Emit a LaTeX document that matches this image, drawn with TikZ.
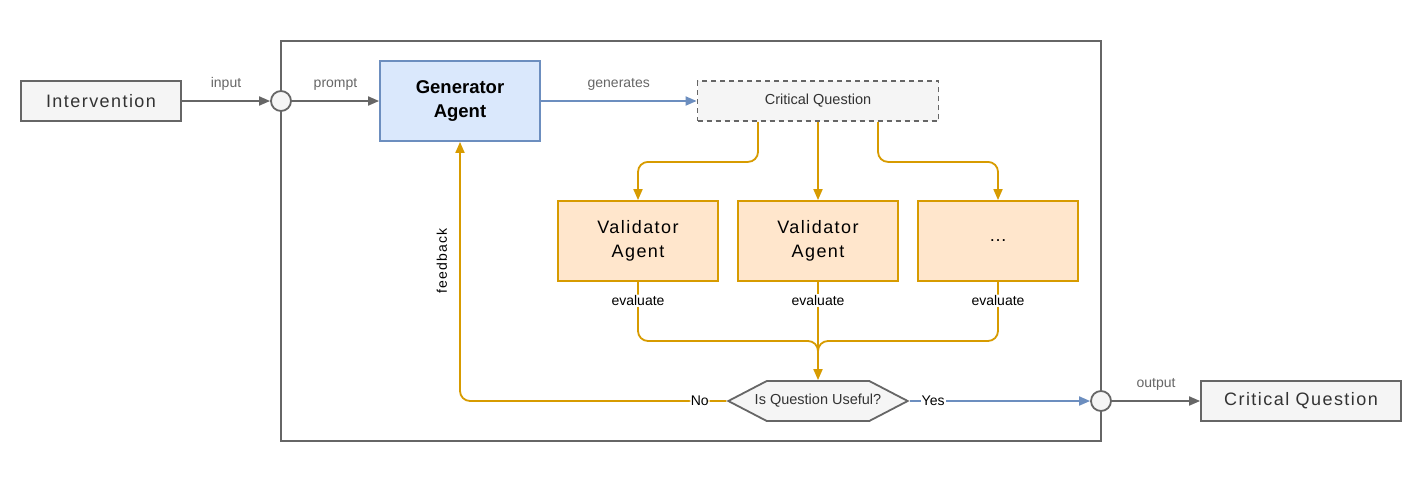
\documentclass[tikz,border=0pt]{standalone}
\usepackage{fontspec}
\setmainfont{Liberation Sans}
\newfontfamily\spacedfont[LetterSpace=8]{Liberation Sans}
\usetikzlibrary{arrows.meta,shapes.symbols}
\definecolor{grayline}{HTML}{666666}
\definecolor{grayfill}{HTML}{F5F5F5}
\definecolor{darktext}{HTML}{333333}
\definecolor{genfill}{HTML}{DAE8FC}
\definecolor{genline}{HTML}{6C8EBF}
\definecolor{valfill}{HTML}{FFE6CC}
\definecolor{valline}{HTML}{D79B00}
\tikzset{
  tip/.style={-{Triangle[length=11pt,width=9pt]}},
  iobox/.style={draw=grayline,fill=grayfill,text=darktext,minimum width=160pt,minimum height=40pt,inner sep=0pt,font=\spacedfont\fontsize{18}{24}\selectfont},
  genbox/.style={draw=genline,fill=genfill,minimum width=160pt,minimum height=80pt,inner sep=0pt,align=center,font=\fontsize{18.5}{24}\selectfont\bfseries},
  valbox/.style={draw=valline,fill=valfill,minimum width=160pt,minimum height=80pt,inner sep=0pt,align=center,font=\spacedfont\fontsize{18}{24}\selectfont},
  port/.style={circle,draw=grayline,fill=grayfill,minimum size=20pt,inner sep=0pt},
  edgelabel/.style={text=grayline,font=\fontsize{14}{16}\selectfont},
  onlabel/.style={fill=white,text=black,inner sep=1pt,font=\fontsize{14}{16}\selectfont},
}
\begin{document}
\begin{tikzpicture}[x=1pt,y=-1pt,line width=1.8pt]
\useasboundingbox (0,0) rectangle (1420,480);
\node[draw=grayline,line width=2pt,minimum width=820pt,minimum height=400pt] (system) at (691,241) {};

\node[iobox] (interv) at (101,101) {Intervention};
\node[port] (inport) at (281,101) {};
\node[genbox] (gen) at (460,101) {Generator\\Agent};
\node[draw=grayline,dash pattern=on 5pt off 4pt,fill=grayfill,minimum width=241pt,minimum height=40pt,inner sep=0pt,text=darktext,font=\fontsize{14.5}{16}\selectfont] (cq) at (818,101) {Critical Question};

\node[valbox] (val1) at (638,241) {Validator\\Agent};
\node[valbox] (val2) at (818,241) {Validator\\Agent};
\node[valbox] (val3) at (998,241) {\dots};

\node[signal,signal to=west and east,signal pointer angle=55,draw=grayline,fill=grayfill,minimum height=40pt,inner xsep=-12pt,inner ysep=0pt,text=darktext,font=\fontsize{14.5}{16}\selectfont] (useful) at (818,401) {Is Question Useful?};
\node[port] (outport) at (1101,401) {};
\node[iobox,minimum width=200pt] (cqout) at (1301,401) {Critical Question};
\coordinate (merge) at (818,341);

\draw[grayline,tip] (interv) -- node[edgelabel,above=6pt] {input} (inport);
\draw[grayline,tip] (inport) -- node[edgelabel,above=6pt] {prompt} (gen);
\draw[genline,tip] (gen) -- node[edgelabel,above=6pt] {generates} (cq);

\draw[valline,tip,rounded corners=10pt] ([xshift=-60pt]cq.south) -- ++(0,40) -| (val1.north);
\draw[valline,tip] (cq.south) -- (val2.north);
\draw[valline,tip,rounded corners=10pt] ([xshift=60pt]cq.south) -- ++(0,40) -| (val3.north);

\draw[valline,rounded corners=10pt] (val1.south) -- node[onlabel,pos=0.32] {evaluate} (val1.south |- merge) -| ([yshift=15pt]useful.north);
\draw[valline,rounded corners=10pt] (val3.south) -- node[onlabel,pos=0.32] {evaluate} (val3.south |- merge) -| ([yshift=15pt]useful.north);
\draw[valline,tip] (val2.south) -- node[onlabel,pos=0.19] {evaluate} (useful.north);

\draw[valline,tip,rounded corners=10pt] (useful.west) -- node[onlabel,pos=0.1] {No} (gen.south |- useful.west) -- node[pos=0.54,rotate=90,anchor=south,inner sep=12pt,text=black,font=\spacedfont\fontsize{14}{16}\selectfont] {feedback} (gen.south);
\draw[genline,tip] (useful.east) -- node[onlabel,pos=0.13] {Yes} (outport);
\draw[grayline,tip] (outport) -- node[edgelabel,above=6pt] {output} (cqout);
\end{tikzpicture}
\end{document}
